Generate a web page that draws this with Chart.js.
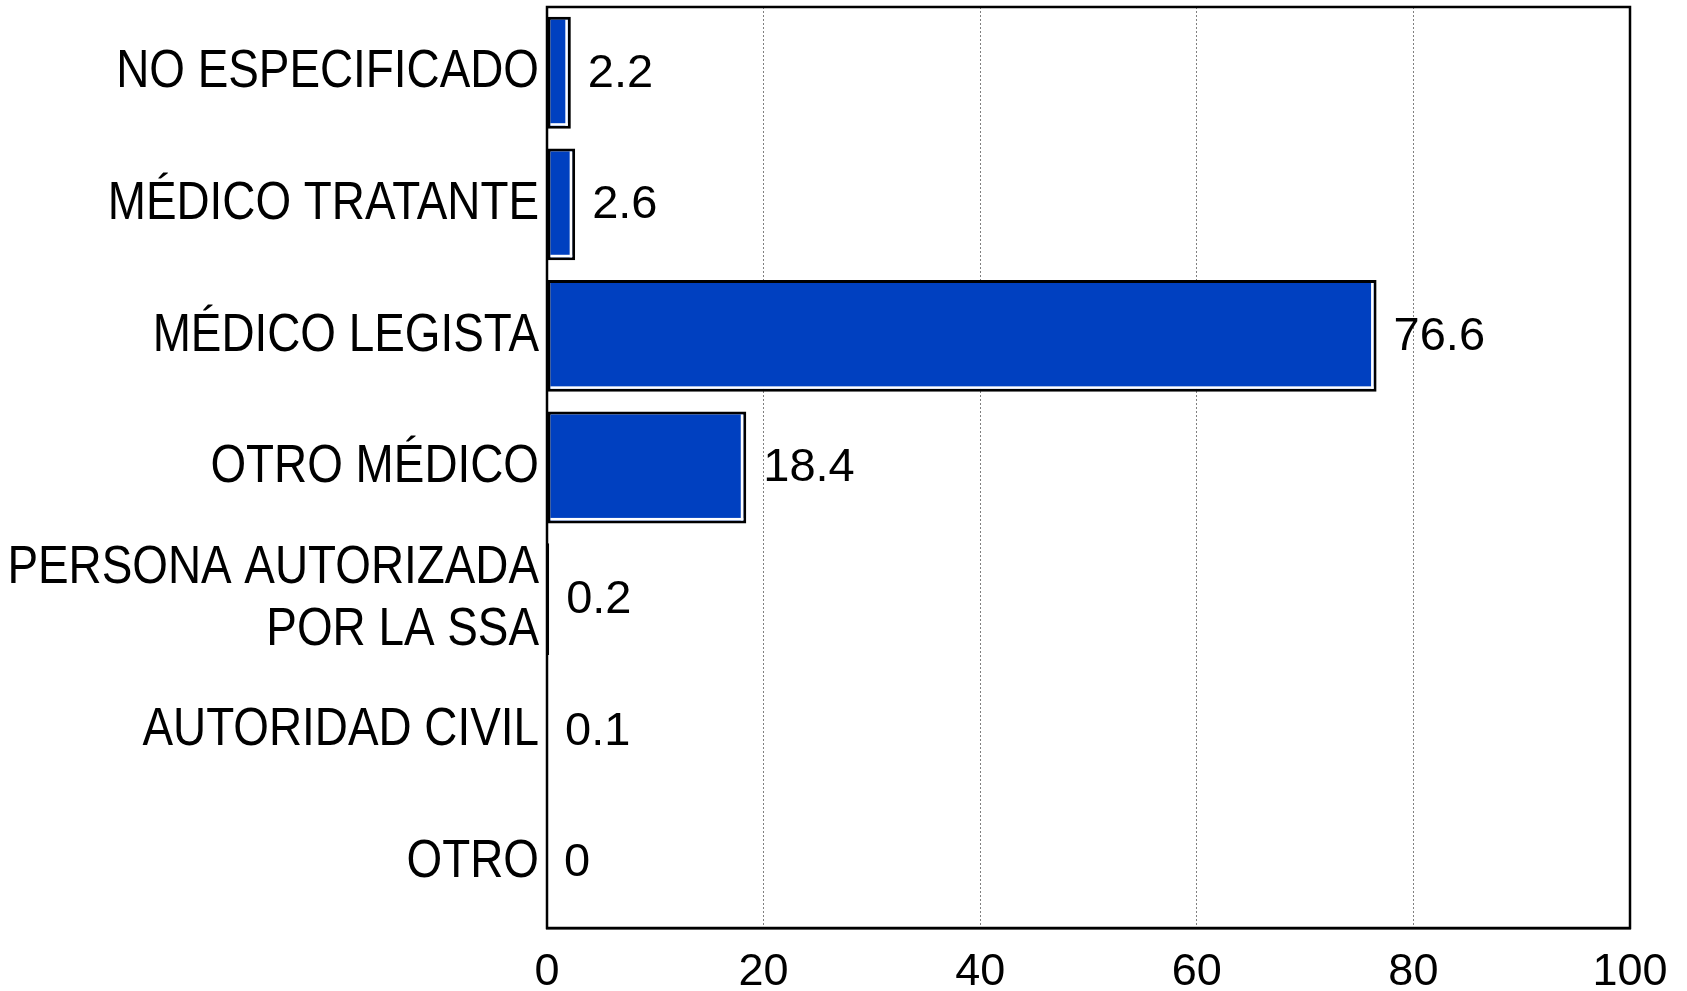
<!DOCTYPE html>
<html>
<head>
<meta charset="utf-8">
<script src="https://cdn.jsdelivr.net/npm/chart.js@4"></script>
<style>
  html, body { margin: 0; padding: 0; background: #fff; }
  canvas { display: block; }
</style>
</head>
<body>
<canvas id="chart" width="1687" height="991"></canvas>
<script>
const categories = [
  "NO ESPECIFICADO",
  "MÉDICO TRATANTE",
  "MÉDICO LEGISTA",
  "OTRO MÉDICO",
  ["PERSONA AUTORIZADA", "POR LA SSA"],
  "AUTORIDAD CIVIL",
  "OTRO"
];
const values = [2.2, 2.6, 76.6, 18.4, 0.2, 0.1, 0];
const valueLabels = ["2.2", "2.6", "76.6", "18.4", "0.2", "0.1", "0"];
const xMin = 0;
const xMax = 100;
const xStep = 20;

// white inner edge on right + bottom of each bar (the "shadow" look)
const barShade = {
  id: "barShade",
  afterDatasetsDraw(chart) {
    const ctx = chart.ctx;
    const meta = chart.getDatasetMeta(0);
    const bw = 3, sw = 2.5;
    ctx.save();
    ctx.fillStyle = "#ffffff";
    meta.data.forEach(bar => {
      const { x, y, base, height } = bar.getProps(["x", "y", "base", "height"], true);
      const left = Math.min(base, x), right = Math.max(base, x);
      const top = y - height / 2, bottom = y + height / 2;
      if (right - left < 3 * bw) return;
      ctx.fillRect(right - bw - sw, top + bw, sw, bottom - top - 2 * bw);
      ctx.fillRect(left + bw, bottom - bw - sw, right - left - 2 * bw, sw);
    });
    ctx.restore();
  }
};

// value labels to the right of each bar
const valueText = {
  id: "valueText",
  afterDatasetsDraw(chart) {
    const ctx = chart.ctx;
    const meta = chart.getDatasetMeta(0);
    ctx.save();
    ctx.font = '47px "Liberation Sans", Arial, sans-serif';
    ctx.fillStyle = "#000";
    ctx.textAlign = "left";
    ctx.textBaseline = "middle";
    meta.data.forEach((bar, i) => {
      ctx.fillText(valueLabels[i], bar.x + 17, bar.y + 1);
    });
    ctx.restore();
  }
};

// category labels in the original are a narrow face; squeeze them sideways
const condenseY = {
  id: "condenseY",
  afterUpdate(chart) {
    const s = chart.scales.y;
    if (!s || s._condensed) return;
    const orig = s.drawLabels.bind(s);
    s._computeLabelArea = () => undefined; // no clipping, text is squeezed afterwards
    s.drawLabels = function (area) {
      const ctx = this.ctx;
      const ax = this.right - this.options.ticks.padding;
      ctx.save();
      ctx.translate(ax, 0);
      ctx.scale(0.865, 1);
      ctx.translate(-ax, 0);
      orig(area);
      ctx.restore();
    };
    s._condensed = true;
  }
};

// box round the plot area
const plotFrame = {
  id: "plotFrame",
  afterDraw(chart) {
    const { ctx, chartArea: a } = chart;
    ctx.save();
    ctx.strokeStyle = "#000";
    ctx.lineWidth = 2.5;
    ctx.strokeRect(a.left, a.top, a.right - a.left, a.bottom - a.top);
    ctx.restore();
  }
};

new Chart(document.getElementById("chart"), {
  type: "bar",
  data: {
    labels: categories,
    datasets: [{
      data: values,
      backgroundColor: "#0040c0",
      borderColor: "#000000",
      borderWidth: 3,
      borderSkipped: false,
      barPercentage: 0.85,
      categoryPercentage: 1
    }]
  },
  options: {
    indexAxis: "y",
    responsive: false,
    devicePixelRatio: 1,
    animation: false,
    layout: { padding: { top: 7, right: 57, left: 0, bottom: 0 } },
    plugins: {
      legend: { display: false },
      tooltip: { enabled: false }
    },
    scales: {
      x: {
        min: xMin,
        max: xMax,
        ticks: {
          stepSize: xStep,
          color: "#000",
          padding: 18,
          font: { family: '"Liberation Sans", Arial, sans-serif', size: 45 }
        },
        grid: {
          drawTicks: false,
          lineWidth: 1,
          color: c => (c.tick && (c.tick.value === xMin || c.tick.value === xMax)) ? "rgba(0,0,0,0)" : "#808080"
        },
        border: { display: true, color: "#000", width: 2.5, dash: [2, 2] },
        afterFit: s => { s.height = 63; }
      },
      y: {
        ticks: {
          color: "#000",
          padding: 8,
          autoSkip: false,
          font: { family: '"Liberation Sans", Arial, sans-serif', size: 53, lineHeight: 1.17 }
        },
        grid: { display: false, drawTicks: false },
        border: { display: true, color: "#000", width: 2 },
        afterFit: s => { s.width = 547; s.paddingTop = 0; s.paddingBottom = 0; }
      }
    }
  },
  plugins: [condenseY, barShade, valueText, plotFrame]
});
</script>
</body>
</html>
